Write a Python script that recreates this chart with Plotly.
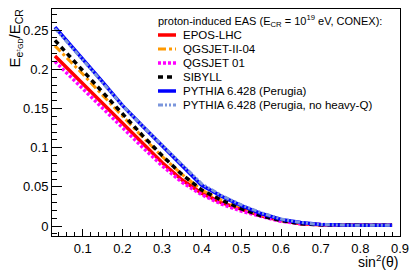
import plotly.graph_objects as go

sin2_theta = [0.03, 0.05, 0.10, 0.15, 0.20, 0.25, 0.30, 0.35, 0.40, 0.45, 0.50,
              0.55, 0.60, 0.65, 0.70, 0.75, 0.80, 0.85, 0.88]

epos_lhc = [0.217, 0.207, 0.182, 0.157, 0.131, 0.106, 0.081, 0.059, 0.042, 0.030, 0.021,
            0.013, 0.007, 0.003, 0.0015, 0.001, 0.001, 0.001, 0.001]
qgsjet_ii_04 = [0.230, 0.220, 0.194, 0.167, 0.140, 0.114, 0.089, 0.066, 0.046, 0.033, 0.022,
                0.014, 0.0075, 0.0035, 0.0015, 0.001, 0.001, 0.001, 0.001]
qgsjet_01 = [0.210, 0.200, 0.175, 0.150, 0.125, 0.101, 0.077, 0.056, 0.040, 0.028, 0.019,
             0.012, 0.006, 0.003, 0.0015, 0.001, 0.001, 0.001, 0.001]
sibyll = [0.237, 0.226, 0.199, 0.171, 0.143, 0.116, 0.090, 0.066, 0.046, 0.033, 0.022,
          0.013, 0.007, 0.003, 0.0015, 0.001, 0.001, 0.001, 0.001]
pythia = [0.254, 0.242, 0.213, 0.184, 0.154, 0.128, 0.103, 0.077, 0.052, 0.038, 0.026,
          0.016, 0.0085, 0.0045, 0.002, 0.0012, 0.001, 0.001, 0.001]
pythia_noq = [0.252, 0.241, 0.212, 0.183, 0.154, 0.128, 0.103, 0.078, 0.054, 0.039, 0.027,
              0.017, 0.009, 0.0045, 0.002, 0.0012, 0.001, 0.001, 0.001]

series_names = ["EPOS-LHC", "QGSJET-II-04", "QGSJET 01", "SIBYLL",
                "PYTHIA 6.428 (Perugia)", "PYTHIA 6.428 (Perugia, no heavy-Q)"]
series_values = [epos_lhc, qgsjet_ii_04, qgsjet_01, sibyll, pythia, pythia_noq]
series_colors = ["#ff0000", "#ff9900", "#ff00ff", "#000000", "#0000ff", "#7b96dc"]
series_dash = ["solid", "8px,3px,3px,3px", "3px,2px", "5px,4px", "solid", "5px,2px,2px,2px,2px,2px"]
series_width = [3.5, 3, 3.5, 3.5, 3.5, 3]

x_tickvals = [0.1, 0.2, 0.3, 0.4, 0.5, 0.6, 0.7, 0.8, 0.9]
x_ticktext = ["0.1", "0.2", "0.3", "0.4", "0.5", "0.6", "0.7", "0.8", "0.9"]
y_tickvals = [0, 0.05, 0.1, 0.15, 0.2, 0.25]
y_ticktext = ["0", "0.05", "0.1", "0.15", "0.2", "0.25"]

legend_header = "proton-induced EAS (E<sub>CR</sub> = 10<sup>19</sup> eV, CONEX):"
y_title = ("E<sub>e<span style='font-size:7px'><sup>±</sup>GD</span></sub>"
           "/E<sub>CR</sub>")
x_title = "sin<sup>2</sup>(θ)"

fig = go.Figure()
for name, vals, col, dash, w in zip(series_names, series_values, series_colors, series_dash, series_width):
    fig.add_trace(go.Scatter(x=sin2_theta, y=vals, mode="lines", name=name,
                             line=dict(color=col, dash=dash, width=w),
                             showlegend=False))

# Manual legend (ROOT-style compact)
W, H = 414, 272
ml, mr, mt, mb = 52, 14, 9, 36
pw, ph = W - ml - mr, H - mt - mb

def px2x(px):
    return (px - ml) / pw

def py2y(py):
    return 1 - (py - mt) / ph

fig.add_annotation(text=legend_header, xref="paper", yref="paper",
                   x=px2x(156), y=py2y(21), xanchor="left", yanchor="middle",
                   showarrow=False, font=dict(size=11, color="black"))
row0, drow = 35, 14
for i, (name, col, dash, w) in enumerate(zip(series_names, series_colors, series_dash, series_width)):
    yy = py2y(row0 + i * drow)
    fig.add_shape(type="line", xref="paper", yref="paper",
                  x0=px2x(158), x1=px2x(176), y0=yy, y1=yy,
                  line=dict(color=col, dash=dash, width=w))
    fig.add_annotation(text=name, xref="paper", yref="paper",
                       x=px2x(181), y=yy, xanchor="left", yanchor="middle",
                       showarrow=False, font=dict(size=11.5, color="black"))

# Axis titles
fig.add_annotation(text=y_title,
                   xref="paper", yref="paper", x=px2x(15), y=py2y(7),
                   xanchor="center", yanchor="top", textangle=-90,
                   showarrow=False, font=dict(size=15, color="black"))
fig.add_annotation(text=x_title, xref="paper", yref="paper",
                   x=1.0, y=py2y(261), xanchor="right", yanchor="middle",
                   showarrow=False, font=dict(size=14, color="black"))

axis_common = dict(showgrid=False, zeroline=False, showline=True, linecolor="black",
                   linewidth=1, mirror=True, ticks="inside", tickcolor="black",
                   automargin=False, tickfont=dict(size=13, color="black"))
fig.update_xaxes(range=[0.0225, 0.9], tickmode="array", tickvals=x_tickvals, ticktext=x_ticktext,
                 ticklen=7, tickangle=0,
                 minor=dict(dtick=0.02, tick0=0, ticks="inside", ticklen=4, tickcolor="black"),
                 **axis_common)
fig.update_yaxes(range=[-0.0127, 0.277], tickmode="array", tickvals=y_tickvals, ticktext=y_ticktext,
                 ticklen=10,
                 minor=dict(dtick=0.01, tick0=0, ticks="inside", ticklen=5, tickcolor="black"),
                 **axis_common)

fig.update_layout(width=W, height=H, margin=dict(l=ml, r=mr, t=mt, b=mb, autoexpand=False),
                  plot_bgcolor="white", paper_bgcolor="white",
                  font=dict(family="Liberation Sans, Arial, sans-serif", color="black"),
                  showlegend=False)

fig.write_html("out.html", config={"displayModeBar": False},
               post_script="document.body.style.margin='0';document.body.style.overflow='hidden';")
